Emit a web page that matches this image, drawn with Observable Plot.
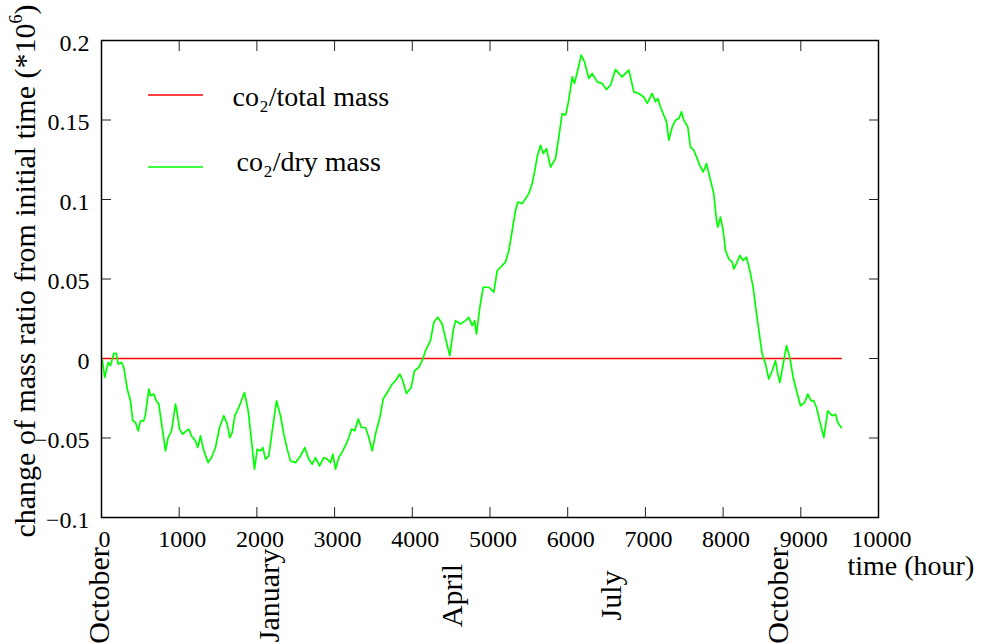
<!DOCTYPE html>
<html>
<head>
<meta charset="utf-8">
<script src="https://cdn.jsdelivr.net/npm/d3@7"></script>
<script src="https://cdn.jsdelivr.net/npm/@observablehq/plot@0.6"></script>
<style>
  html, body { margin: 0; padding: 0; background: white; }
  svg text { font-family: 'Liberation Serif', 'Times New Roman', Times, serif; }
</style>
</head>
<body>
<div id="chart"></div>
<script>
// ---- data ----
const xTicks = [0, 1000, 2000, 3000, 4000, 5000, 6000, 7000, 8000, 9000, 10000];
const yTicks = [-0.1, -0.05, 0, 0.05, 0.1, 0.15, 0.2];

const monthNames = ["October", "January", "April", "July", "October"];
const monthHours = [0, 2200, 4550, 6600, 8740];

const seriesNames = ["co\u2082/total mass", "co\u2082/dry mass"];
const xLabel = "time (hour)";
const yLabel = "change of mass ratio from initial time (*10";
const yLabelSup = "6";

const totalHours = [0, 9520];
const totalValues = [0, 0];

const dryHours = [0,
  10,42,86,116,158,189,215,257,287,331,
  373,403,438,472,502,544,566,609,631,673,
  704,737,781,824,858,901,952,974,1004,1046,
  1090,1124,1158,1210,1239,1274,1317,1373,1416,1467,
  1519,1574,1618,1651,1682,1716,1767,1840,1888,1931,
  1969,2004,2046,2076,2111,2153,2197,2252,2304,2346,
  2390,2432,2497,2561,2616,2668,2712,2754,2806,2861,
  2905,2947,2977,3012,3054,3105,3149,3183,3218,3260,
  3304,3346,3398,3440,3484,3526,3582,3625,3677,3741,
  3784,3839,3870,3925,3986,4028,4084,4127,4170,4234,
  4277,4328,4385,4440,4483,4526,4556,4620,4685,4727,
  4771,4801,4826,4869,4912,4985,5049,5093,5135,5199,
  5242,5286,5328,5358,5414,5457,5499,5543,5573,5607,
  5650,5685,5727,5779,5843,5885,5929,5972,6014,6058,
  6087,6130,6174,6216,6272,6315,6380,6444,6499,6551,
  6615,6658,6701,6744,6786,6817,6851,6915,6979,7023,
  7087,7130,7160,7194,7246,7272,7301,7345,7387,7430,
  7465,7494,7546,7580,7623,7658,7700,7744,7786,7838,
  7880,7915,7932,7966,8001,8031,8073,8117,8138,8181,
  8215,8259,8301,8344,8387,8430,8460,8503,8546,8588,
  8632,8674,8704,8730,8773,8816,8858,8902,8945,8996,
  9048,9090,9134,9167,9202,9253,9296,9347,9404,9447,
  9476,9520];

const dryValues = [0,
  -0.001,-0.0119,-0.0025,-0.0045,0.0032,0.0032,-0.0035,-0.0025,-0.0056,-0.0192,
  -0.0266,-0.0392,-0.0403,-0.0455,-0.0392,-0.0392,-0.035,-0.0192,-0.0234,-0.0224,
  -0.0266,-0.0287,-0.0434,-0.0581,-0.0497,-0.0455,-0.0287,-0.034,-0.0444,-0.0476,
  -0.0455,-0.0444,-0.0487,-0.0518,-0.056,-0.0487,-0.0581,-0.0655,-0.0623,-0.056,
  -0.0434,-0.036,-0.0413,-0.0497,-0.0466,-0.036,-0.0308,-0.0214,-0.0329,-0.0518,
  -0.0696,-0.057,-0.0581,-0.056,-0.0633,-0.0613,-0.0455,-0.0266,-0.036,-0.0476,
  -0.057,-0.0644,-0.0655,-0.0613,-0.056,-0.0633,-0.0665,-0.0623,-0.0676,-0.0623,
  -0.0633,-0.0655,-0.0602,-0.0696,-0.0623,-0.0581,-0.0539,-0.0497,-0.0444,-0.0455,
  -0.0381,-0.0434,-0.0434,-0.0497,-0.0581,-0.0476,-0.0371,-0.0255,-0.0214,-0.0161,
  -0.014,-0.0098,-0.0129,-0.022,-0.0182,-0.0077,-0.0056,-0.0014,0.0049,0.0112,
  0.0228,0.0259,0.0217,0.0101,0.0018,0.0175,0.0238,0.0217,0.0238,0.0259,
  0.0207,0.0238,0.0154,0.0322,0.0448,0.0448,0.0417,0.0553,0.0574,0.0606,
  0.0679,0.0805,0.0931,0.0984,0.0974,0.1005,0.1037,0.11,0.1173,0.1267,
  0.1341,0.1289,0.132,0.1204,0.1257,0.1393,0.1541,0.153,0.1625,0.1771,
  0.173,0.1814,0.1908,0.1866,0.1761,0.1793,0.174,0.173,0.1692,0.1719,
  0.1818,0.1793,0.1771,0.1793,0.1814,0.1751,0.1677,0.1667,0.1645,0.1604,
  0.1667,0.1614,0.1635,0.1582,0.1519,0.1488,0.1373,0.1456,0.1499,0.1509,
  0.1551,0.1499,0.1456,0.133,0.131,0.1267,0.1215,0.1173,0.1226,0.112,
  0.1037,0.0868,0.0826,0.0889,0.0805,0.0679,0.0627,0.0606,0.0564,0.0606,
  0.0648,0.0616,0.0637,0.0553,0.0448,0.028,0.0175,0.0028,-0.0035,-0.0129,
  -0.0077,-0.0014,-0.0098,-0.0151,-0.0035,0.0081,0.0007,-0.0119,-0.0203,-0.0297,
  -0.0277,-0.0224,-0.0266,-0.0266,-0.0308,-0.0413,-0.0497,-0.0329,-0.036,-0.035,
  -0.0403,-0.0434];

const colors = ["#ff0000", "#00ff00"];

// ---- tables built from the arrays ----
const totalData = totalHours.map((h, i) => ({hour: h, value: totalValues[i]}));
const dryData = dryHours.map((h, i) => ({hour: h, value: dryValues[i]}));
const months = monthNames.map((m, i) => ({name: m, hour: monthHours[i]}));

const serif = "'Liberation Serif', 'Times New Roman', Times, serif";
const yFormat = d => String(d).replace("-", "\u2212");

const chart = Plot.plot({
  width: 983,
  height: 643,
  marginLeft: 101,
  marginRight: 105,
  marginTop: 40,
  marginBottom: 126,
  x: {domain: [0, 10000]},
  y: {domain: [-0.1, 0.2]},
  style: {fontFamily: serif, background: "white", color: "black", overflow: "visible"},
  marks: [
    // inward ticks, all four sides
    Plot.axisX({ticks: xTicks, anchor: "bottom", tickSize: -10, tickFormat: () => "", label: null, stroke: "#222"}),
    Plot.axisX({ticks: xTicks, anchor: "top", tickSize: -10, tickFormat: () => "", label: null, stroke: "#222"}),
    Plot.axisY({ticks: yTicks, anchor: "left", tickSize: -10, tickFormat: () => "", label: null, stroke: "#222"}),
    Plot.axisY({ticks: yTicks, anchor: "right", tickSize: -10, tickFormat: () => "", label: null, stroke: "#222"}),
    // tick labels
    Plot.axisX({ticks: xTicks, anchor: "bottom", tickSize: 0, tickPadding: 12, dx: 3, fontSize: 24,
      tickFormat: d => String(d), label: null}),
    Plot.axisY({ticks: yTicks, anchor: "left", tickSize: 0, tickPadding: 12, dy: 2.5, fontSize: 24,
      tickFormat: yFormat, label: null}),
    // data lines
    Plot.line(totalData, {x: "hour", y: "value", stroke: colors[0], strokeWidth: 1.6}),
    Plot.line(dryData, {x: "hour", y: "value", stroke: colors[1], strokeWidth: 1.7}),
    Plot.frame({stroke: "black", strokeWidth: 1.5}),
    // month labels
    Plot.text(months, {x: "hour", text: "name", frameAnchor: "bottom", rotate: -90,
      textAnchor: "middle", dx: 7, dy: 78, fontSize: 30, fill: "black"}),
    // axis titles
    Plot.text([xLabel], {frameAnchor: "bottom-right", textAnchor: "start", lineAnchor: "bottom",
      dx: -31, dy: 57, fontSize: 28, fill: "black"}),
    Plot.text([yLabel], {frameAnchor: "left", rotate: -90,
      textAnchor: "middle", lineAnchor: "bottom", dx: -67, dy: -8, fontSize: 30, fill: "black"}),
    // legend labels
    Plot.text([seriesNames[0]], {frameAnchor: "top-left", textAnchor: "start", lineAnchor: "bottom",
      dx: 131, dy: 65, fontSize: 28, fill: "black"}),
    Plot.text([seriesNames[1]], {frameAnchor: "top-left", textAnchor: "start", lineAnchor: "bottom",
      dx: 135, dy: 130, fontSize: 28, fill: "black"})
  ]
});

const svg = d3.select(chart);

// superscript in the y label
svg.selectAll("text").each(function() {
  if (this.textContent === yLabel) {
    const t = d3.select(this);
    t.text(yLabel);
    t.append("tspan").attr("font-size", 18).attr("dy", -13).text(yLabelSup);
    t.append("tspan").attr("dy", 13).text(")");
  }
});

// legend swatches
const legend = svg.append("g").attr("class", "legend-swatches");
[[95, colors[0]], [167, colors[1]]].forEach(([y, c]) => {
  legend.append("line")
    .attr("x1", 148).attr("x2", 203)
    .attr("y1", y).attr("y2", y)
    .attr("stroke", c).attr("stroke-width", 1.5);
});

document.getElementById("chart").appendChild(chart);
</script>
</body>
</html>
